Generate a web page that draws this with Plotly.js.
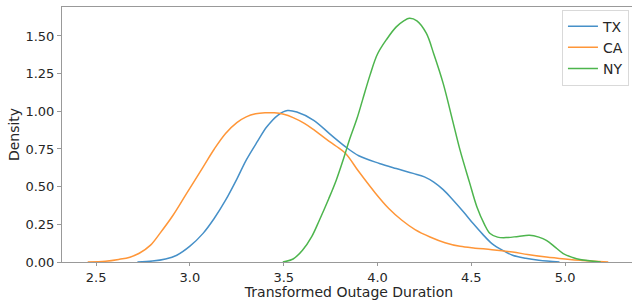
<!DOCTYPE html>
<html>
<head>
<meta charset="utf-8">
<script src="https://cdn.plot.ly/plotly-3.0.1.min.js"></script>
<style>html,body{margin:0;padding:0;overflow:hidden;background:#fff;}</style>
</head>
<body>
<div id="chart" style="width:640px;height:300px;"></div>
<script>
// Data (KDE curves)
const seriesNames = ["TX", "CA", "NY"];

const txX = [2.72, 2.80, 2.87, 2.93, 3.00, 3.07, 3.13, 3.19, 3.25, 3.30, 3.36, 3.41, 3.47, 3.52, 3.57, 3.66, 3.75, 3.83, 3.90, 4.01, 4.10, 4.19, 4.25, 4.30, 4.35, 4.40, 4.46, 4.51, 4.56, 4.61, 4.67, 4.72, 4.79, 4.86, 4.97];
const txY = [0.00, 0.006, 0.02, 0.045, 0.105, 0.19, 0.29, 0.41, 0.55, 0.676, 0.80, 0.897, 0.975, 1.005, 0.995, 0.94, 0.845, 0.764, 0.705, 0.654, 0.62, 0.588, 0.565, 0.53, 0.48, 0.415, 0.33, 0.255, 0.185, 0.122, 0.075, 0.045, 0.025, 0.012, 0.0];

const caX = [2.455, 2.55, 2.62, 2.68, 2.73, 2.79, 2.84, 2.91, 2.98, 3.07, 3.13, 3.19, 3.25, 3.30, 3.35, 3.40, 3.45, 3.50, 3.55, 3.61, 3.66, 3.73, 3.78, 3.83, 3.90, 3.99, 4.06, 4.13, 4.20, 4.28, 4.36, 4.44, 4.52, 4.61, 4.72, 4.80, 4.90, 5.00, 5.08, 5.23];
const caY = [0.0, 0.005, 0.017, 0.032, 0.058, 0.112, 0.19, 0.31, 0.45, 0.63, 0.75, 0.853, 0.925, 0.963, 0.983, 0.99, 0.99, 0.98, 0.958, 0.92, 0.878, 0.812, 0.768, 0.72, 0.60, 0.455, 0.355, 0.277, 0.215, 0.166, 0.128, 0.104, 0.092, 0.082, 0.066, 0.05, 0.033, 0.02, 0.011, 0.0];

const nyX = [3.495, 3.55, 3.60, 3.65, 3.69, 3.74, 3.78, 3.82, 3.85, 3.89, 3.92, 3.96, 4.00, 4.05, 4.10, 4.14, 4.17, 4.21, 4.26, 4.30, 4.35, 4.40, 4.44, 4.49, 4.53, 4.57, 4.60, 4.64, 4.69, 4.75, 4.81, 4.86, 4.90, 4.95, 4.99, 5.04, 5.08, 5.19];
const nyY = [0.0, 0.02, 0.078, 0.17, 0.277, 0.42, 0.543, 0.69, 0.809, 0.95, 1.074, 1.24, 1.38, 1.48, 1.56, 1.60, 1.617, 1.60, 1.518, 1.38, 1.185, 0.94, 0.742, 0.53, 0.365, 0.25, 0.189, 0.165, 0.162, 0.17, 0.177, 0.165, 0.144, 0.095, 0.056, 0.03, 0.016, 0.0];

const colors = ["#4690c8", "#ff9638", "#4db54d"];
const xs = [txX, caX, nyX];
const ys = [txY, caY, nyY];

const traces = seriesNames.map((n, i) => ({
  type: "scatter",
  mode: "lines",
  name: n,
  x: xs[i],
  y: ys[i],
  line: {color: colors[i], width: 1.5, shape: "spline", smoothing: 1.0}
}));

const font = {family: "DejaVu Sans, sans-serif", size: 14, color: "#262626"};
const tickFont = {family: "DejaVu Sans, sans-serif", size: 13, color: "#262626"};

const layout = {
  width: 640,
  height: 300,
  margin: {l: 62, r: 4, t: 7, b: 38},
  paper_bgcolor: "#fff",
  plot_bgcolor: "#fff",
  font: font,
  showlegend: true,
  legend: {
    x: 0.871, y: 0.99, xanchor: "left", yanchor: "top",
    bordercolor: "#d9d9d9", borderwidth: 1, bgcolor: "rgba(255,255,255,0.9)",
    font: {family: "DejaVu Sans, sans-serif", size: 14, color: "#262626"},
    tracegroupgap: 0
  },
  xaxis: {
    range: [2.318, 5.378],
    tickvals: [2.5, 3.0, 3.5, 4.0, 4.5, 5.0],
    ticktext: ["2.5", "3.0", "3.5", "4.0", "4.5", "5.0"],
    ticks: "outside", ticklen: 3, tickcolor: "#999",
    showgrid: false, zeroline: false,
    showline: true, linecolor: "#999", linewidth: 1, mirror: true,
    tickfont: tickFont,
    title: {text: "Transformed Outage Duration", font: font, standoff: 2}
  },
  yaxis: {
    range: [0, 1.692],
    tickvals: [0, 0.25, 0.5, 0.75, 1.0, 1.25, 1.5],
    ticktext: ["0.00", "0.25", "0.50", "0.75", "1.00", "1.25", "1.50"],
    ticks: "outside", ticklen: 4, tickcolor: "#999",
    showgrid: false, zeroline: false,
    showline: true, linecolor: "#999", linewidth: 1, mirror: true,
    tickfont: tickFont,
    title: {text: "Density", font: font, standoff: 2}
  }
};

Plotly.newPlot("chart", traces, layout, {displayModeBar: false, staticPlot: true});
</script>
</body>
</html>
